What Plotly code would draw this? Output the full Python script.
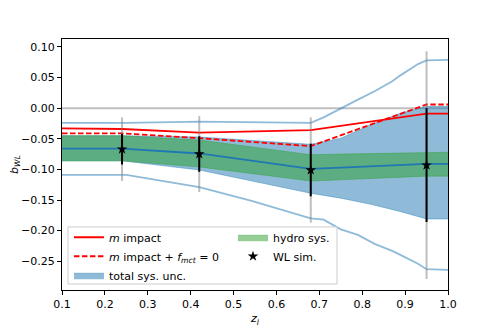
import plotly.graph_objects as go

# --- data ---
z_knots = [0.10, 0.24, 0.42, 0.68, 0.95, 1.00]
m_impact = [-0.033, -0.034, -0.040, -0.036, -0.009, -0.009]
m_impact_fmct0 = [-0.041, -0.041, -0.049, -0.062, 0.006, 0.006]

z_band = [0.10, 0.24, 0.42, 0.68, 0.75, 0.82, 0.89, 0.95, 1.00]
b_center = [-0.066, -0.066, -0.074, -0.099, -0.097, -0.095, -0.093, -0.091, -0.091]
hydro_lo = [-0.086, -0.086, -0.096, -0.119, -0.117, -0.115, -0.113, -0.111, -0.111]
hydro_hi = [-0.045, -0.045, -0.052, -0.076, -0.075, -0.074, -0.073, -0.072, -0.072]
total_lo = [-0.086, -0.086, -0.101, -0.139, -0.147, -0.157, -0.169, -0.181, -0.181]
total_hi = [-0.045, -0.045, -0.047, -0.059, -0.049, -0.027, -0.008, 0.003, 0.003]

z_outer = [0.10, 0.25, 0.42, 0.54, 0.68, 0.71, 0.75, 0.79, 0.83, 0.87, 0.89, 0.93, 0.95, 1.00]
outer_hi = [-0.024, -0.024, -0.022, -0.023, -0.024, -0.015, 0.000, 0.014, 0.028, 0.044, 0.054, 0.072, 0.078, 0.079]
outer_lo = [-0.109, -0.109, -0.129, -0.151, -0.180, -0.182, -0.198, -0.207, -0.222, -0.233, -0.240, -0.254, -0.263, -0.264]

z_sim = [0.24, 0.42, 0.68, 0.95]
b_sim = [-0.067, -0.075, -0.101, -0.093]
err_stat = [0.025, 0.029, 0.043, 0.093]
err_total = [0.052, 0.062, 0.086, 0.186]

C0 = "#1f77b4"
C0_half = "rgba(31,119,180,0.5)"
GREEN_half = "rgba(44,160,44,0.5)"
GRAY_half = "rgba(128,128,128,0.5)"

fig = go.Figure()

# total systematic band
fig.add_trace(go.Scatter(x=z_band, y=total_lo, mode="lines",
                         line=dict(color=C0_half, width=0.8),
                         showlegend=False, hoverinfo="skip"))
fig.add_trace(go.Scatter(x=z_band, y=total_hi, mode="lines", fill="tonexty",
                         fillcolor=C0_half, line=dict(color=C0_half, width=0.8),
                         name="total sys. unc.", legend="legend", legendrank=3))

# hydro band
fig.add_trace(go.Scatter(x=z_band, y=hydro_lo, mode="lines",
                         line=dict(color=GREEN_half, width=0.8),
                         showlegend=False, hoverinfo="skip"))
fig.add_trace(go.Scatter(x=z_band, y=hydro_hi, mode="lines", fill="tonexty",
                         fillcolor=GREEN_half, line=dict(color=GREEN_half, width=0.8),
                         name="hydro sys.", legend="legend2", legendrank=1))

# outer envelope lines
fig.add_trace(go.Scatter(x=z_outer, y=outer_hi, mode="lines",
                         line=dict(color=C0_half, width=1.8), showlegend=False))
fig.add_trace(go.Scatter(x=z_outer, y=outer_lo, mode="lines",
                         line=dict(color=C0_half, width=1.8), showlegend=False))

# central line
fig.add_trace(go.Scatter(x=z_band, y=b_center, mode="lines",
                         line=dict(color=C0, width=1.8), showlegend=False))

# m impact lines
fig.add_trace(go.Scatter(x=z_knots, y=m_impact, mode="lines",
                         line=dict(color="red", width=1.8),
                         name="<i>m</i> impact", legend="legend", legendrank=1))
fig.add_trace(go.Scatter(x=z_knots, y=m_impact_fmct0, mode="lines",
                         line=dict(color="red", width=1.8, dash="5.5px,2.5px"),
                         name="<i>m</i> impact + <i>f<sub>mct</sub></i> = 0",
                         legend="legend", legendrank=2))

# WL sim: total errors (gray) and statistical (black)
fig.add_trace(go.Scatter(x=z_sim, y=b_sim, mode="markers",
                         marker=dict(color="rgba(0,0,0,0)", size=1),
                         error_y=dict(type="data", array=err_total, color=GRAY_half,
                                      thickness=2, width=0),
                         showlegend=False, hoverinfo="skip"))
fig.add_trace(go.Scatter(x=z_sim, y=b_sim, mode="markers",
                         marker=dict(color="black", symbol="star", size=8),
                         error_y=dict(type="data", array=err_stat, color="black",
                                      thickness=2, width=0),
                         name="WL sim.", legend="legend2", legendrank=2))

fig.add_hline(y=0, line=dict(color=GRAY_half, width=2), layer="below")

# legend frame shared by both legend columns
fig.add_shape(type="rect", xref="paper", yref="paper",
              x0=0.0155, x1=0.7124, y0=0.024, y1=0.2513,
              line=dict(color="#cccccc", width=1),
              fillcolor="rgba(255,255,255,0.8)", layer="above")

axis_common = dict(showline=True, linecolor="black", linewidth=1, mirror=True,
                   ticks="outside", ticklen=4, tickcolor="black", showgrid=False,
                   zeroline=False, automargin=False,
                   tickfont=dict(size=11, color="black"))

legend_common = dict(orientation="v", xanchor="left", yanchor="top",
                     bgcolor="rgba(0,0,0,0)", borderwidth=0,
                     font=dict(size=11), traceorder="normal",
                     tracegroupgap=0, itemwidth=30)

# the page body adds an 8px offset, so the figure is 8px smaller than the window
fig.update_layout(
    width=490, height=324,
    margin=dict(l=54, r=50, t=31, b=42),
    paper_bgcolor="white", plot_bgcolor="white",
    font=dict(family="DejaVu Sans", size=11, color="black"),
    xaxis=dict(range=[0.1, 1.0], dtick=0.1, tickformat=".1f",
               title=dict(text="<i>z<sub>l</sub></i>", standoff=4, font=dict(size=11)),
               **axis_common),
    yaxis=dict(range=[-0.297, 0.113], dtick=0.05, tick0=0, tickformat=".2f",
               title=dict(text="<i>b<sub>WL</sub></i>", standoff=4, font=dict(size=11)),
               **axis_common),
    legend=dict(x=0.018, y=0.268, **legend_common),
    legend2=dict(x=0.443, y=0.268, **legend_common),
)

fig.write_html("out.html")
